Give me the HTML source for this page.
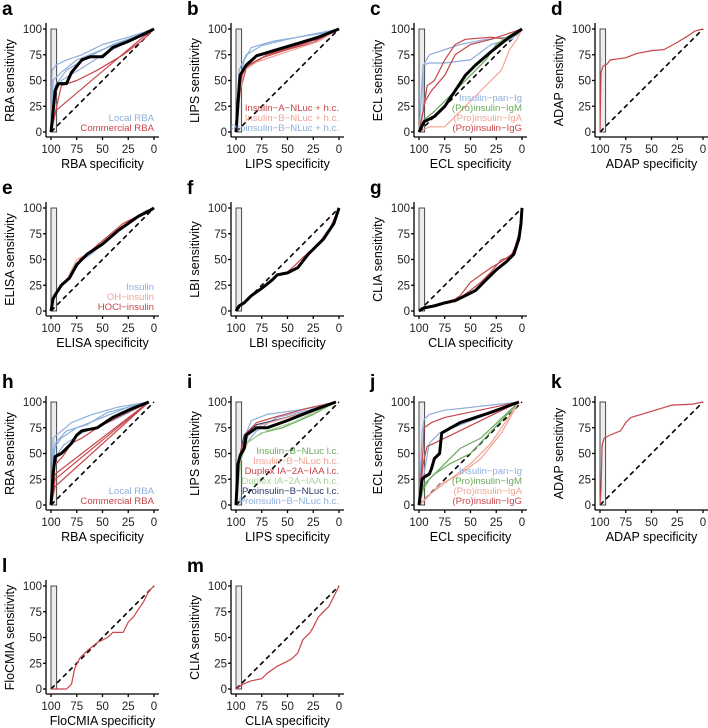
<!DOCTYPE html>
<html><head><meta charset="utf-8">
<style>
html,body{margin:0;padding:0;background:#fff;}
svg{display:block;font-family:"Liberation Sans",Arial,sans-serif;}
</style></head>
<body>
<svg id="fig" width="708" height="728" viewBox="0 0 708 728" xmlns="http://www.w3.org/2000/svg"></svg>
<script>
const BLUE="#8eaedb", RED="#c8454a", PINK="#f2a394", GREEN="#6aa85c", NAVY="#2a3a68", BLACK="#000";
const tickValues=[0,25,50,75,100];

const aLocal1=[100,0,99,60,95,65,85,70,70,75,50,85,25,92,0,100];
const aLocal2=[100,0,98,50,90,58,75,70,50,80,25,90,0,100];
const aLocal3=[100,0,97,35,90,50,70,62,50,75,25,88,0,100];
const aLocal4=[100,0,96,45,85,60,65,72,40,85,20,92,0,100];
const aComm1=[100,0,95,21,12,91,0,100];
const aComm2=[100,0,90,45,75,50,55,60,30,75,10,90,0,100];
const aMean=[100,0,98,20,96,40,93,47,85,47,80,58,70,70,62,73,50,73,40,82,25,88,10,95,0,100];

const bRed1=[100,0,97,30,94,58,88,65,75,72,50,80,25,87,0,100];
const bRed2=[100,0,96,40,90,62,70,75,40,84,15,92,0,100];
const bPink=[100,0,96,40,92,60,80,68,50,78,20,88,0,100];
const bBlue1=[100,0,96,50,92,70,85,82,65,88,40,92,15,96,0,100];
const bBlue2=[100,0,97,60,90,75,75,84,50,90,25,95,0,100];
const bMean=[100,0,98,30,96,55,90,65,80,74,60,80,40,86,20,92,0,100];

const cBlue1=[100,0,96,20,96,65,90,67,75,67,50,70,30,85,10,90,0,100];
const cBlue2=[100,0,96,64,90,75,60,85,35,90,15,92,0,100];
const cRed1=[100,0,96,20,92,45,85,50,75,70,65,85,55,90,30,92,15,90,0,100];
const cRed2=[100,0,94,30,88,40,75,55,65,75,50,85,30,90,0,100];
const cGreen=[100,0,95,12,85,20,75,30,60,45,45,60,35,70,25,85,10,95,0,100];
const cPink=[100,0,90,5,75,5,60,20,45,35,30,50,20,60,12,80,5,90,0,100];
const cMean=[100,0,95,10,85,15,75,25,65,40,55,55,45,65,30,78,15,90,0,100];

const dRed=[100,0,99,58,97,64,93,66,90,70,75,72,65,76,50,79,38,80,25,87,15,93,8,98,0,100];

const eBlue=[100,0,98,10,95,16,88,27,80,35,72,48,60,56,50,66,35,78,25,86,15,92,5,97,0,100];
const ePink=[100,0,98,15,94,20,85,30,75,50,65,55,50,68,35,80,22,88,10,95,0,100];
const eRed=[100,0,98,12,92,22,80,35,72,50,62,58,48,70,30,85,20,90,8,97,0,100];
const eMean=[100,0,98,12,95,17,90,25,82,32,75,45,65,55,50,65,35,78,25,85,15,92,5,97,0,100];

const fRed=[100,0,97,5,92,8,85,15,75,22,65,30,60,35,50,38,42,45,35,52,28,58,18,68,8,82,0,100];
const fMean=[100,0,97,5,92,8,85,15,75,22,65,30,60,35,50,37,40,42,30,55,25,60,15,70,5,85,0,100];

const gRed1=[100,0,95,3,85,5,70,8,60,15,50,28,40,35,30,42,20,48,10,55,3,70,0,100];
const gRed2=[100,0,95,3,85,6,70,10,60,13,50,20,40,28,30,38,20,50,10,52,3,75,0,100];
const gMean=[100,0,95,3,85,5,75,8,65,10,55,15,45,20,35,30,25,40,15,48,8,55,3,70,1,85,0,100];

const hBlue1=[100,0,98,65,92,70,80,80,60,88,35,95,5,100];
const hBlue2=[100,0,97,55,90,65,75,75,50,85,25,95,5,100];
const hBlue3=[100,0,97,45,88,58,70,70,40,82,20,92,5,100];
const hBlue4=[100,0,96,60,85,72,65,78,45,90,5,100];
const hRed1=[100,0,97,40,95,40,88,48,80,60,70,65,55,75,30,88,5,100];
const hRed2=[100,0,96,30,5,100];
const hRed3=[100,0,96,18,5,100];
const hRed4=[100,0,96,25,5,100];
const hMean=[100,0,98,30,96,47,90,50,85,55,80,60,75,68,70,72,55,75,40,85,25,92,5,100];

const iBlue1=[100,0,97,45,92,65,85,82,70,88,40,92,15,97,3,100];
const iBlue2=[100,0,96,40,90,60,80,72,60,85,30,92,3,100];
const iNavy=[100,0,97,45,92,68,80,78,55,84,25,92,3,100];
const iGreen1=[100,0,96,50,90,60,75,70,55,75,25,88,3,100];
const iGreen2=[100,0,95,45,88,62,70,72,45,80,3,100];
const iRed=[100,0,96,50,90,70,80,80,60,86,30,94,3,100];
const iPink=[100,0,96,45,88,68,75,78,50,85,20,93,3,100];
const iMean=[100,0,98,40,96,48,92,55,90,68,80,75,70,75,50,82,25,92,3,100];

const jBlue1=[100,0,97,70,95,83,90,88,75,92,3,100];
const jBlue2=[100,0,95,30,90,60,80,70,3,100];
const jRed1=[100,0,96,55,95,75,88,80,75,85,3,100];
const jRed2=[100,0,96,40,92,57,85,60,3,100];
const jGreen1=[100,0,96,15,90,25,80,35,70,45,60,55,40,65,3,100];
const jGreen2=[100,0,95,20,85,30,70,40,50,50,3,100];
const jPink1=[100,0,94,5,80,20,60,30,40,45,20,70,3,100];
const jPink2=[100,0,90,10,70,25,50,40,30,60,3,100];
const jMean=[100,0,97,25,95,27,90,30,88,35,85,45,80,50,78,70,60,80,30,90,3,100];

const kRed=[100,0,99,15,98,58,96,65,90,68,80,72,75,80,70,85,60,88,50,91,40,94,30,97,10,98,0,100];
const lRed=[100,0,95,0,85,0,80,5,77,20,72,30,65,37,55,45,45,50,40,55,30,55,25,65,20,70,10,85,5,95,0,100];
const mRed=[100,0,97,2,93,5,85,8,75,10,70,15,60,22,50,27,45,30,40,35,35,48,28,55,25,60,20,70,10,80,5,90,0,100];

const panels=[
 {id:"a",x:51,y:29,name:"RBA",series:[[aLocal1,BLUE],[aLocal2,BLUE],[aLocal3,BLUE],[aLocal4,BLUE],[aComm1,RED],[aComm2,RED],[aMean,BLACK]],legend:[["Local RBA",BLUE],["Commercial RBA",RED]]},
 {id:"b",x:236,y:29,name:"LIPS",series:[[bRed1,RED],[bRed2,RED],[bPink,PINK],[bBlue1,BLUE],[bBlue2,BLUE],[bMean,BLACK]],legend:[["Insulin−A−NLuc + h.c.",RED],["Insulin−B−NLuc + h.c.",PINK],["Proinsulin−B−NLuc + h.c.",BLUE]]},
 {id:"c",x:419,y:29,name:"ECL",series:[[cBlue1,BLUE],[cBlue2,BLUE],[cRed1,RED],[cRed2,RED],[cGreen,GREEN],[cPink,PINK],[cMean,BLACK]],legend:[["Insulin−pan−Ig",BLUE],["(Pro)insulin−IgM",GREEN],["(Pro)insulin−IgA",PINK],["(Pro)insulin−IgG",RED]]},
 {id:"d",x:600,y:29,name:"ADAP",series:[[dRed,RED]],legend:[]},
 {id:"e",x:51,y:208,name:"ELISA",series:[[eBlue,BLUE],[ePink,PINK],[eRed,RED],[eMean,BLACK]],legend:[["Insulin",BLUE],["OH−insulin",PINK],["HOCl−insulin",RED]]},
 {id:"f",x:236,y:208,name:"LBI",series:[[fRed,RED],[fMean,BLACK]],legend:[]},
 {id:"g",x:419,y:208,name:"CLIA",series:[[gRed1,RED],[gRed2,RED],[gMean,BLACK]],legend:[]},
 {id:"h",x:51,y:402,name:"RBA",series:[[hBlue1,BLUE],[hBlue2,BLUE],[hBlue3,BLUE],[hBlue4,BLUE],[hRed1,RED],[hRed2,RED],[hRed3,RED],[hRed4,RED],[hMean,BLACK]],legend:[["Local RBA",BLUE],["Commercial RBA",RED]]},
 {id:"i",x:236,y:402,name:"LIPS",series:[[iBlue1,BLUE],[iBlue2,BLUE],[iNavy,NAVY],[iGreen1,GREEN],[iGreen2,"#a8d49a"],[iRed,RED],[iPink,PINK],[iMean,BLACK]],legend:[["Insulin−B−NLuc l.c.",GREEN],["Insulin−B−NLuc h.c.",PINK],["Duplex IA−2A−IAA l.c.",RED],["Duplex IA−2A−IAA h.c.","#a8d49a"],["Proinsulin−B−NLuc l.c.",NAVY],["Proinsulin−B−NLuc h.c.",BLUE]]},
 {id:"j",x:419,y:402,name:"ECL",series:[[jBlue1,BLUE],[jBlue2,BLUE],[jRed1,RED],[jRed2,RED],[jGreen1,GREEN],[jGreen2,GREEN],[jPink1,PINK],[jPink2,PINK],[jMean,BLACK]],legend:[["Insulin−pan−Ig",BLUE],["(Pro)insulin−IgM",GREEN],["(Pro)insulin−IgA",PINK],["(Pro)insulin−IgG",RED]]},
 {id:"k",x:600,y:402,name:"ADAP",series:[[kRed,RED]],legend:[]},
 {id:"l",x:51,y:586,name:"FloCMIA",series:[[lRed,RED]],legend:[]},
 {id:"m",x:236,y:586,name:"CLIA",series:[[mRed,RED]],legend:[]}
];

const NS="http://www.w3.org/2000/svg";
const svg=document.getElementById("fig");
const W=103,H=103;
function mk(tag,attrs,parent,txt){const e=document.createElementNS(NS,tag);for(const k in attrs)e.setAttribute(k,attrs[k]);if(txt!==undefined)e.textContent=txt;parent.appendChild(e);return e;}

panels.forEach(p=>{
 const sx=v=>p.x+(100-v)/100*W;
 const sy=v=>p.y+(100-v)/100*H;
 const g=mk("g",{},svg);
 
 
 const lt=mk("text",{x:p.x-49,y:p.y-14,"font-size":"19","font-weight":"bold"},g,p.id);
 
 
 const r=mk("rect",{x:sx(100),y:sy(100),width:sx(94.5)-sx(100),height:sy(0)-sy(100),fill:"#ececec",stroke:"#222","stroke-width":"0.8"},g);
 
 
 const ax=mk("g",{stroke:"#000","stroke-width":"1.3",fill:"none"},g);
 
 
 mk("line",{x1:p.x-5,y1:p.y-6,x2:p.x-5,y2:p.y+H+5},ax);
 mk("line",{x1:p.x-5,y1:p.y+H+5,x2:p.x+W+5,y2:p.y+H+5},ax);
 tickValues.forEach(t=>{
  mk("line",{x1:p.x-8,y1:sy(t),x2:p.x-5,y2:sy(t)},ax);
  mk("line",{x1:sx(t),y1:p.y+H+5,x2:sx(t),y2:p.y+H+8},ax);
  const yl=mk("text",{x:p.x-9,y:sy(t)+4,"font-size":"11.5","text-anchor":"end",fill:"#222"},g,String(t));
  
  
  const xl=mk("text",{x:sx(t),y:p.y+H+21,"font-size":"11.5","text-anchor":"middle",fill:"#222"},g,String(t));
  
  
 });
 const xt=mk("text",{x:p.x+W/2,y:p.y+H+36,"font-size":"12.5","text-anchor":"middle"},g,p.name+" specificity");
 
 
 const ycx=p.x-37, ycy=p.y+H/2;
 const yt=mk("text",{x:ycx,y:ycy,"font-size":"12.5","text-anchor":"middle",transform:`rotate(-90 ${ycx} ${ycy})`},g,p.name+" sensitivity");
 
 
 const dg=mk("line",{x1:sx(100),y1:sy(0),x2:sx(0),y2:sy(100),stroke:"#000","stroke-width":"1.6","stroke-dasharray":"5,3.5"},g);
 
 
 p.series.forEach(([arr,col],i)=>{
  let pts=[];
  for(let k=0;k<arr.length;k+=2)pts.push(sx(arr[k]).toFixed(1)+","+sy(arr[k+1]).toFixed(1));
  const isMean=col===BLACK;
  const pl=mk("polyline",{points:pts.join(" "),fill:"none",stroke:col,"stroke-width":isMean?"3":"1.2","stroke-linejoin":"round"},g);
  
  
 });
 const n=p.legend.length;
 p.legend.forEach(([lab,col],i)=>{
  const tx=mk("text",{x:p.x+W,y:p.y+H-1-(n-1-i)*10,"font-size":"9.6","text-anchor":"end",fill:col},g,lab);
  
  
 });
});
</script>
</body></html>
